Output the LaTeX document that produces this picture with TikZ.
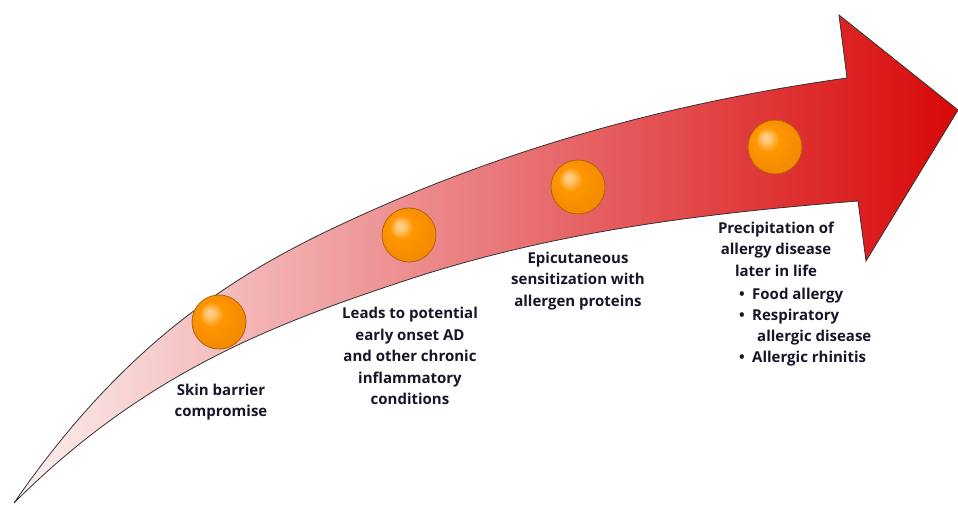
\documentclass[tikz,border=0pt]{standalone}
\usepackage{fontspec}
\setmainfont{Open Sans}
\definecolor{txtc}{RGB}{22,22,40}
\definecolor{arrL}{RGB}{252,240,240}
\definecolor{arrM}{RGB}{234,122,124}
\definecolor{arrR}{RGB}{216,8,8}
\definecolor{ballE}{RGB}{176,100,10}
\definecolor{ballM}{RGB}{255,150,0}
\definecolor{ballD}{RGB}{245,140,0}
\definecolor{ballH}{RGB}{255,205,130}
\pgfdeclareradialshading{orangeball}{\pgfpoint{-9bp}{9bp}}{color(0bp)=(ballH); color(3bp)=(ballH); color(11bp)=(ballM); color(25bp)=(ballD); color(50bp)=(ballD)}
\tikzset{
  ballnode/.style={circle, minimum size=54pt, inner sep=0pt, draw=ballE, line width=0.8pt, shade, shading=orangeball},
  txt/.style={font=\bfseries\fontsize{15}{21.5}\selectfont, text=txtc, align=center, inner sep=0pt},
  txtl/.style={font=\bfseries\fontsize{15}{21.5}\selectfont, text=txtc, inner sep=0pt, anchor=base west}
}
\begin{document}
\begin{tikzpicture}[x=1pt,y=-1pt]
\useasboundingbox (0,0) rectangle (958,506);
\coordinate (tail) at (14,503);
\coordinate (um) at (340,225);
\coordinate (ui) at (847,78);
\coordinate (ub) at (839,15);
\coordinate (tip) at (958,110);
\coordinate (lb) at (866,261);
\coordinate (li) at (858,201);
\coordinate (lm) at (407,280);
\shadedraw[left color=arrL, right color=arrR, middle color=arrM, draw=black!80, line width=0.8pt, line join=miter]
  (tail) .. controls (123,345) and (231,276) .. (um)
  .. controls (509,145.6) and (678,101.7) .. (ui)
  -- (ub) -- (tip) -- (lb) -- (li)
  .. controls (708,213) and (557,230.5) .. (lm)
  .. controls (276,323.2) and (145,372) .. (tail)
  -- cycle;
\node[ballnode] (b1) at (219,322) {};
\node[ballnode] (b2) at (409,235) {};
\node[ballnode] (b3) at (578,187) {};
\node[ballnode] (b4) at (775,147) {};
\node[txt] (t1) at (221,402) {Skin barrier\\compromise};
\node[txt] (t2) at (410,356) {Leads to potential\\early onset AD\\and other chronic\\inflammatory\\conditions};
\node[txt] (t3) at (578,281) {Epicutaneous\\sensitization with\\allergen proteins};
\node[txt] (t4) at (776,249) {Precipitation of\\allergy disease\\later in life};
\node[txtl] (t5) at (739,299) {\makebox[13pt][l]{\textbullet}Food allergy};
\node[txtl] (t6) at (739,320) {\makebox[13pt][l]{\textbullet}Respiratory};
\node[txtl] (t7) at (757,341) {allergic disease};
\node[txtl] (t8) at (739,362) {\makebox[13pt][l]{\textbullet}Allergic rhinitis};
\end{tikzpicture}
\end{document}
